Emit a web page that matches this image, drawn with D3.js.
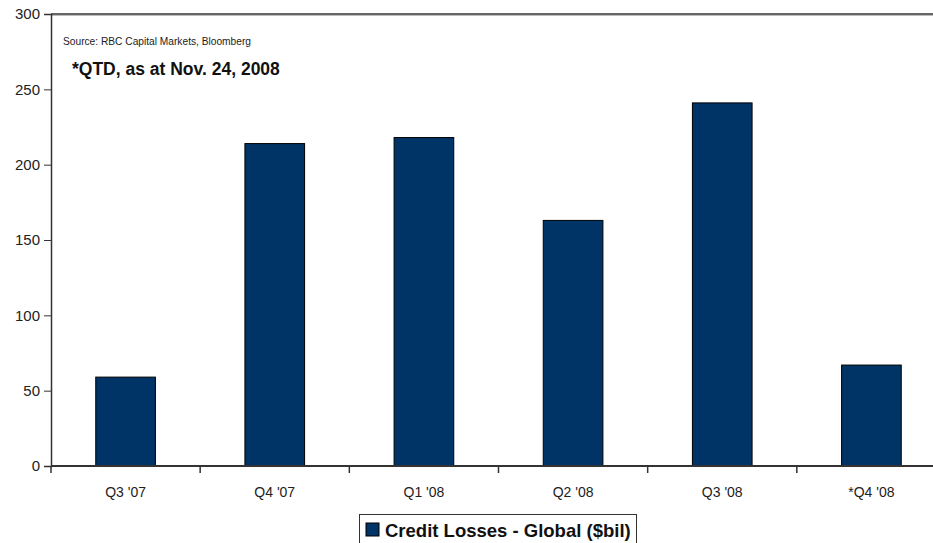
<!DOCTYPE html>
<html>
<head>
<meta charset="utf-8">
<script src="https://cdn.jsdelivr.net/npm/d3@7"></script>
<style>
  body { margin: 0; background: #fff; }
  svg { display: block; font-family: "Liberation Sans", Arial, sans-serif; }
</style>
</head>
<body>
<div id="chart"></div>
<script>
// chart data
var quarters = ["Q3 '07", "Q4 '07", "Q1 '08", "Q2 '08", "Q3 '08", "*Q4 '08"];
var losses = [59, 214, 218, 163, 241, 67];
var yTicks = [0, 50, 100, 150, 200, 250, 300];

var W = 933, H = 543;
var plotLeft = 51, plotTop = 14, plotBottom = 466, plotRight = 946;

var svg = d3.select("#chart").append("svg")
  .attr("width", W)
  .attr("height", H);

var x = d3.scaleBand()
  .domain(quarters)
  .range([plotLeft, plotRight])
  .paddingInner(0.6)
  .paddingOuter(0.3);

var y = d3.scaleLinear()
  .domain([0, 300])
  .range([plotBottom, plotTop]);

// top border line
svg.append("line")
  .attr("x1", plotLeft).attr("x2", W)
  .attr("y1", y(300)).attr("y2", y(300))
  .attr("stroke", "#333").attr("stroke-width", 1.5);
svg.append("line")
  .attr("x1", plotLeft).attr("x2", W)
  .attr("y1", y(300) + 1.5).attr("y2", y(300) + 1.5)
  .attr("stroke", "#bbb").attr("stroke-width", 1);

// bars
svg.selectAll("rect.bar")
  .data(losses)
  .enter().append("rect")
  .attr("class", "bar")
  .attr("x", (d, i) => x(quarters[i]))
  .attr("y", d => y(d))
  .attr("width", x.bandwidth())
  .attr("height", d => plotBottom - y(d))
  .attr("fill", "#003366")
  .attr("stroke", "#000")
  .attr("stroke-width", 1);

// y axis
var yAxis = svg.append("g")
  .attr("transform", `translate(${plotLeft},0)`)
  .call(d3.axisLeft(y).tickValues(yTicks).tickSize(7).tickPadding(4));
yAxis.select(".domain").attr("stroke", "#333").attr("stroke-width", 1.5);
yAxis.selectAll(".tick line").attr("stroke", "#333");
yAxis.selectAll(".tick text")
  .attr("font-size", 15)
  .attr("fill", "#222")
  .attr("font-family", "Liberation Sans, Arial, sans-serif");

// x axis line with ticks on band boundaries
svg.append("line")
  .attr("x1", plotLeft).attr("x2", W)
  .attr("y1", plotBottom).attr("y2", plotBottom)
  .attr("stroke", "#333").attr("stroke-width", 2);

var bounds = d3.range(quarters.length + 1).map(i => plotLeft + i * (plotRight - plotLeft) / quarters.length);
svg.selectAll("line.xtick")
  .data(bounds)
  .enter().append("line")
  .attr("class", "xtick")
  .attr("x1", d => d).attr("x2", d => d)
  .attr("y1", plotBottom).attr("y2", plotBottom + 7)
  .attr("stroke", "#333").attr("stroke-width", 1.5);

svg.selectAll("text.xlab")
  .data(quarters)
  .enter().append("text")
  .attr("class", "xlab")
  .attr("x", d => x(d) + x.bandwidth() / 2)
  .attr("y", 497)
  .attr("text-anchor", "middle")
  .attr("font-size", 14)
  .attr("fill", "#222")
  .text(d => d);

// notes
svg.append("text")
  .attr("x", 63).attr("y", 45)
  .attr("font-size", 10.2)
  .attr("fill", "#222")
  .text("Source: RBC Capital Markets, Bloomberg");

svg.append("text")
  .attr("x", 72).attr("y", 75)
  .attr("font-size", 17.5)
  .attr("font-weight", "bold")
  .attr("fill", "#111")
  .text("*QTD, as at Nov. 24, 2008");

// legend
var legend = svg.append("g");
legend.append("rect")
  .attr("x", 359.5).attr("y", 514.5)
  .attr("width", 277).attr("height", 40)
  .attr("fill", "#fff")
  .attr("stroke", "#333").attr("stroke-width", 1);
legend.append("rect")
  .attr("x", 366).attr("y", 523)
  .attr("width", 13).attr("height", 13)
  .attr("fill", "#003366")
  .attr("stroke", "#000");
legend.append("text")
  .attr("x", 385).attr("y", 537)
  .attr("font-size", 18.5)
  .attr("font-weight", "bold")
  .attr("fill", "#111")
  .text("Credit Losses - Global ($bil)");
</script>
</body>
</html>
